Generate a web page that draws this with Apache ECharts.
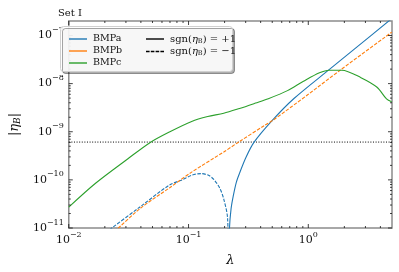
<!DOCTYPE html>
<html><head><meta charset="utf-8">
<script src="https://cdn.jsdelivr.net/npm/echarts@6/dist/echarts.min.js"></script>
<style>html,body{margin:0;padding:0;background:#fff}#c{width:399px;height:272px}</style>
</head><body><div id="c"></div>
<script>
// axis ranges
const xMin = 0.01, xMax = 5, yMin = 1e-11, yMax = 2e-7;
const refLevel = 6.1e-10;

// BMPa, sgn = +1 (solid)
const aPosLam = [0.2166, 0.2198, 0.2265, 0.2366, 0.2512, 0.2667, 0.302, 0.3516, 0.494, 0.759, 1.493, 2.51, 4.97];
const aPosVal = [1e-12, 1.0e-11, 2.5e-11, 4.7e-11, 9.1e-11, 1.38e-10, 2.95e-10, 6.0e-10, 1.66e-9, 4.9e-9, 1.95e-8, 5.6e-8, 2.24e-7];
// BMPa, sgn = -1 (dashed)
const aNegLam = [0.0219, 0.02291, 0.0398, 0.0692, 0.0883, 0.107, 0.1276, 0.148, 0.1637, 0.182, 0.1968, 0.2118, 0.216];
const aNegVal = [9.1e-12, 1.0e-11, 2.8e-11, 7.8e-11, 1.0e-10, 1.26e-10, 1.35e-10, 1.23e-10, 1.0e-10, 6.8e-11, 4.0e-11, 1.6e-11, 1e-12];
// BMPb, sgn = -1 (dashed)
const bNegLam = [0.024, 0.02594, 0.0399, 0.0692, 0.1062, 0.1968, 0.2594, 0.437, 0.508, 1.0, 1.845, 4.97];
const bNegVal = [8.5e-12, 1.0e-11, 2.6e-11, 6.8e-11, 1.45e-10, 3.8e-10, 6.0e-10, 1.38e-9, 1.74e-9, 6.0e-9, 1.9e-8, 1.17e-7];
// BMPc, sgn = +1 (solid)
const cPosLam = [0.01, 0.01683, 0.0312, 0.0479, 0.0692, 0.1062, 0.1445, 0.1968, 0.2667, 0.363, 0.4637, 0.67, 0.912, 1.24, 1.49, 1.905, 2.754, 3.75, 4.5, 4.97];
const cPosVal = [2.72e-11, 8.6e-11, 2.75e-10, 6.0e-10, 9.9e-10, 1.64e-9, 2.07e-9, 2.42e-9, 3.05e-9, 3.94e-9, 4.86e-9, 7.15e-9, 1.12e-8, 1.68e-8, 1.9e-8, 1.9e-8, 1.33e-8, 8.4e-9, 4.8e-9, 4.2e-9];

const xMajorTicks = [0.01, 0.1, 1];
const xMinorTicks = [0.02,0.03,0.04,0.05,0.06,0.07,0.08,0.09,0.2,0.3,0.4,0.5,0.6,0.7,0.8,0.9,2,3,4];
const yMajorTicks = [1e-11, 1e-10, 1e-9, 1e-8, 1e-7];
const yMinorTicks = [];
[1e-11,1e-10,1e-9,1e-8].forEach(d => { for (let k = 2; k <= 9; k++) yMinorTicks.push(k * d); });

const zip = (a, b) => a.map((v, i) => [v, b[i]]);
const serif = '"DejaVu Serif", "Liberation Serif", serif';
const C = { a: '#1f77b4', b: '#ff7f0e', c: '#2ca02c' };
const SGN_P = 'sgn(η_B) = +1', SGN_M = 'sgn(η_B) = −1';
const solidIcon = 'path://M0,0H18V1.4H0Z';
const dashIcon = 'path://M0,0H3.6V1.4H0Z M4.8,0H8.4V1.4H4.8Z M9.6,0H13.2V1.4H9.6Z M14.4,0H18V1.4H14.4Z';

const tickData = [];
xMajorTicks.forEach(v => tickData.push([v, 1]));
xMinorTicks.forEach(v => tickData.push([v, 2]));
yMajorTicks.forEach(v => tickData.push([v, 3]));
yMinorTicks.forEach(v => tickData.push([v, 4]));

const supLabel = v => {
  const e = Math.round(Math.log10(v));
  return '{b|10}{s|' + String(e).replace('-', '−') + '}';
};
const labRich = {
  b: { fontSize: 11, fontFamily: serif, color: '#111' },
  s: { fontSize: 8, fontFamily: serif, color: '#111', padding: [0, 0, 11, 0] }
};

const chart = echarts.init(document.getElementById('c'), null, { renderer: 'canvas' });
chart.setOption({
  animation: false,
  backgroundColor: '#fff',
  title: { text: 'Set I', left: 53, top: 3, textStyle: { fontFamily: serif, fontSize: 10, fontWeight: 'normal', color: '#111' } },
  grid: { left: 55, right: 7, top: 21, bottom: 39, show: true, borderColor: '#8c8c8c', borderWidth: 1.5, backgroundColor: 'transparent' },
  xAxis: {
    type: 'log', logBase: 10, min: xMin, max: xMax,
    axisLine: { show: false }, axisTick: { show: false }, splitLine: { show: false },
    axisLabel: { formatter: supLabel, rich: labRich, margin: 3, showMaxLabel: false },
    name: '{i|λ}', nameLocation: 'middle', nameGap: 26,
    nameTextStyle: { rich: { i: { fontSize: 13, fontFamily: serif, fontStyle: 'italic', color: '#111' } } }
  },
  yAxis: {
    type: 'log', logBase: 10, min: yMin, max: yMax,
    axisLine: { show: false }, axisTick: { show: false }, splitLine: { show: false },
    axisLabel: { formatter: supLabel, rich: labRich, margin: 5, showMaxLabel: false },
    name: '{n||}{i|η}{sub|B}{n||}', nameLocation: 'middle', nameGap: 36, nameRotate: 90,
    nameTextStyle: { rich: {
      n: { fontSize: 13, fontFamily: serif, color: '#111' },
      i: { fontSize: 13, fontFamily: serif, fontStyle: 'italic', color: '#111' },
      sub: { fontSize: 9, fontFamily: serif, fontStyle: 'italic', color: '#111', padding: [6, 0, 0, 0] }
    } }
  },
  graphic: [{
    type: 'rect', left: 60, top: 26, z: 5,
    shape: { width: 172, height: 45, r: 3 },
    style: { fill: 'rgba(255,255,255,0.9)', stroke: '#d0d0d0', lineWidth: 1, shadowColor: 'rgba(0,0,0,0.35)', shadowOffsetX: 2, shadowOffsetY: 2, shadowBlur: 0 }
  }],
  legend: [{
    data: ['BMPa', 'BMPb', 'BMPc'], left: 64, top: 29, orient: 'vertical', itemGap: 2,
    itemWidth: 18, itemHeight: 1.4, z: 10, icon: solidIcon,
    textStyle: { fontFamily: serif, fontSize: 9.5, color: '#111', padding: [0, 0, 0, 1] }
  }, {
    data: [{ name: SGN_P, icon: solidIcon }, { name: SGN_M, icon: dashIcon }], left: 141, top: 29, orient: 'vertical', itemGap: 2,
    itemWidth: 18, itemHeight: 1.4, z: 10,
    formatter: n => n === SGN_P ? 'sgn({i|η}{s|B}) = +1' : 'sgn({i|η}{s|B}) = −1',
    textStyle: { fontFamily: serif, fontSize: 10, color: '#111', padding: [0, 0, 0, 1], rich: {
      i: { fontFamily: serif, fontSize: 10, fontStyle: 'italic', color: '#111' },
      s: { fontFamily: serif, fontSize: 6.5, color: '#111', padding: [4, 0, 0, 0] }
    } }
  }],
  series: [
    { name: 'BMPa', type: 'line', data: zip(aPosLam, aPosVal), smooth: 0.3, symbol: 'none', color: C.a, lineStyle: { width: 1.1, color: C.a }, z: 3 },
    { name: 'BMPa', type: 'line', data: zip(aNegLam, aNegVal), smooth: 0.3, symbol: 'none', color: C.a, lineStyle: { width: 1.1, type: [3.5, 1.5], color: C.a }, z: 3 },
    { name: 'BMPb', type: 'line', data: zip(bNegLam, bNegVal), smooth: 0.3, symbol: 'none', color: C.b, lineStyle: { width: 1.1, type: [3.5, 1.5], color: C.b }, z: 3 },
    { name: 'BMPc', type: 'line', data: zip(cPosLam, cPosVal), smooth: 0.3, symbol: 'none', color: C.c, lineStyle: { width: 1.1, color: C.c }, z: 3 },
    { type: 'line', data: [[xMin, refLevel], [xMax, refLevel]], symbol: 'none', silent: true, z: 2,
      lineStyle: { color: '#000', width: 1, type: [1, 1.6] } },
    { name: SGN_P, type: 'line', data: [], symbol: 'none', color: '#000', lineStyle: { color: '#000', width: 1.2 } },
    { name: SGN_M, type: 'line', data: [], symbol: 'none', color: '#000', lineStyle: { color: '#000', width: 1.2, type: [3.5, 1.5] } },
    { type: 'custom', data: tickData, clip: false, silent: true, z: 4,
      renderItem: (params, api) => {
        const v = api.value(0), kind = api.value(1);
        const st = { stroke: '#111', lineWidth: 0.8 };
        if (kind <= 2) {
          const len = kind === 1 ? 4 : 2;
          const p = api.coord([v, yMin]), q = api.coord([v, yMax]);
          return { type: 'group', children: [
            { type: 'line', shape: { x1: p[0], y1: p[1], x2: p[0], y2: p[1] - len }, style: st },
            { type: 'line', shape: { x1: q[0], y1: q[1], x2: q[0], y2: q[1] + len }, style: st }
          ] };
        } else {
          const len = kind === 3 ? 4 : 2;
          const p = api.coord([xMin, v]), q = api.coord([xMax, v]);
          return { type: 'group', children: [
            { type: 'line', shape: { x1: p[0], y1: p[1], x2: p[0] + len, y2: p[1] }, style: st },
            { type: 'line', shape: { x1: q[0], y1: q[1], x2: q[0] - len, y2: q[1] }, style: st }
          ] };
        }
      } }
  ]
});
</script></body></html>
